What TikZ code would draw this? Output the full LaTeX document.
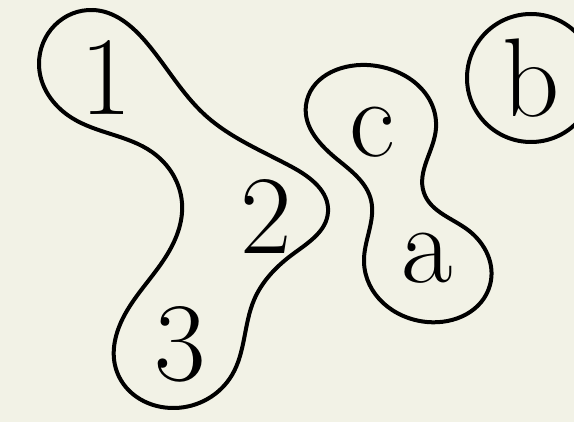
\documentclass[tikz,border=0pt]{standalone}
\usepackage{fontspec}
\usetikzlibrary{hobby}
\begin{document}
\begin{tikzpicture}[x=1pt,y=-1pt,
  lbl/.style={font=\fontsize{112}{112}\selectfont, inner sep=0pt},
  outline/.style={line width=4pt, line join=round},
  blob/.style={outline, use Hobby shortcut, closed=true}]
\fill[fill={rgb,255:red,242;green,242;blue,230}] (0,0) rectangle (574,422);
\useasboundingbox (0,0) rectangle (574,422);
\node[lbl] (n1) at (106,77) {1};
\node[lbl] (n2) at (266,216) {2};
\node[lbl] (n3) at (180,344) {3};
\node[lbl] (nc) at (372,132) {c};
\node[lbl] (na) at (427,258) {a};
\node[lbl] (nb) at (531,78) {b};
\draw[outline] (nb) circle[radius=64];
\draw[blob] (93,10) .. (39,64) .. (72,118) .. (152,152) .. (182,203) .. (165,258) .. (123,318)
 .. (117,372) .. (175,408) .. (232,375) .. (254,300) .. (293,254) .. (328,212)
 .. (292,167) .. (205,115) .. (146,42);
\draw[blob] (367,65) .. (306,105) .. (338,160) .. (371,200) .. (364,262) .. (427,322) .. (490,285)
 .. (468,230) .. (424,193) .. (436,128);
\end{tikzpicture}
\end{document}
